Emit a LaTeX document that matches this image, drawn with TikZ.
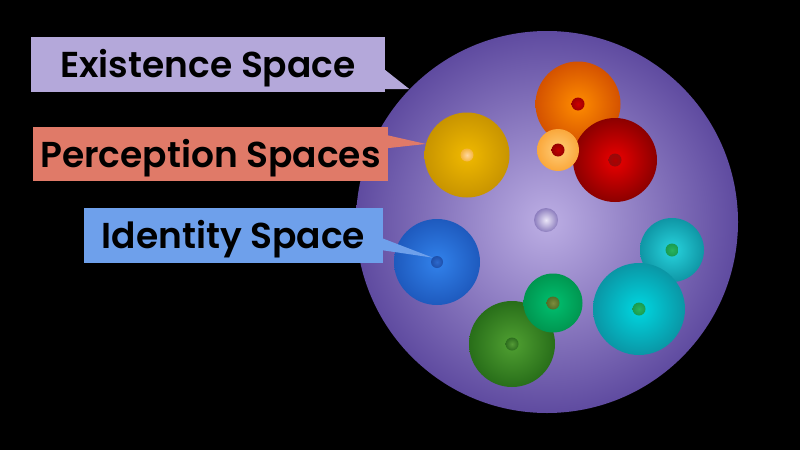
\documentclass[tikz,border=0pt]{standalone}
\usepackage{fontspec}
\setmainfont{Poppins}
\newfontfamily\lblfont{Poppins SemiBold}
\usetikzlibrary{calc}

\definecolor{exlav}{RGB}{180,168,218}
\definecolor{persalmon}{RGB}{224,122,104}
\definecolor{idblue}{RGB}{110,160,235}

\begin{document}
\begin{tikzpicture}[x=1pt,y=-1pt]
    \tikzstyle{ball}=[circle,inner sep=0pt,shade]
    \tikzstyle{dot}=[circle,inner sep=0pt,shade,minimum size=13pt]
    \tikzstyle{lbl}=[inner sep=0pt,minimum height=55pt,text height=26pt,text depth=0pt,text=black,font=\fontsize{36}{36}\lblfont]

    \fill[black] (0,0) rectangle (800,450);
    \useasboundingbox (0,0) rectangle (800,450);

    % the existence space and its core
    \node[ball,minimum size=382pt,inner color={rgb,255:red,188;green,174;blue,228},outer color={rgb,255:red,95;green,75;blue,160}] (world) at (547,222) {};
    \node[ball,minimum size=24pt,inner color={rgb,255:red,235;green,230;blue,248},outer color={rgb,255:red,140;green,125;blue,190}] (core) at (546,220) {};

    % perception spaces
    \node[ball,minimum size=85pt,inner color={rgb,255:red,240;green,185;blue,0},outer color={rgb,255:red,200;green,148;blue,0}] (yellow) at (467,155) {};
    \node[ball,minimum size=85pt,inner color={rgb,255:red,255;green,140;blue,0},outer color={rgb,255:red,212;green,82;blue,0}] (orange) at (578,104) {};
    \node[ball,minimum size=84pt,inner color={rgb,255:red,235;green,0;blue,0},outer color={rgb,255:red,140;green,0;blue,0}] (red) at (615,160) {};
    \node[ball,minimum size=42pt,inner color={rgb,255:red,255;green,205;blue,120},outer color={rgb,255:red,250;green,168;blue,60}] (peach) at (558,150) {};
    \node[ball,minimum size=86pt,inner color={rgb,255:red,50;green,130;blue,235},outer color={rgb,255:red,30;green,90;blue,190}] (blue) at (437,262) {};
    \node[ball,minimum size=64pt,inner color={rgb,255:red,40;green,212;blue,222},outer color={rgb,255:red,15;green,150;blue,165}] (teal) at (672,250) {};
    \node[ball,minimum size=92pt,inner color={rgb,255:red,0;green,215;blue,225},outer color={rgb,255:red,10;green,150;blue,165}] (cyan) at (639,309) {};
    \node[ball,minimum size=86pt,inner color={rgb,255:red,80;green,160;blue,50},outer color={rgb,255:red,40;green,110;blue,25}] (moss) at (512,344) {};
    \node[ball,minimum size=59pt,inner color={rgb,255:red,0;green,192;blue,112},outer color={rgb,255:red,0;green,150;blue,80}] (jade) at (553,303) {};

    % identity spaces
    \node[dot,inner color={rgb,255:red,255;green,215;blue,160},outer color={rgb,255:red,245;green,180;blue,60}] (yellowdot) at (yellow) {};
    \node[dot,inner color={rgb,255:red,205;green,0;blue,0},outer color={rgb,255:red,160;green,0;blue,0}] (orangedot) at (orange) {};
    \node[dot,inner color={rgb,255:red,175;green,0;blue,0},outer color={rgb,255:red,150;green,10;blue,10}] (reddot) at (red) {};
    \node[dot,inner color={rgb,255:red,195;green,0;blue,0},outer color={rgb,255:red,150;green,0;blue,0}] (peachdot) at (peach) {};
    \node[dot,minimum size=12pt,inner color={rgb,255:red,45;green,105;blue,205},outer color={rgb,255:red,30;green,80;blue,170}] (bluedot) at (blue) {};
    \node[dot,inner color={rgb,255:red,40;green,180;blue,95},outer color={rgb,255:red,25;green,155;blue,80}] (tealdot) at (teal) {};
    \node[dot,inner color={rgb,255:red,40;green,180;blue,95},outer color={rgb,255:red,25;green,155;blue,80}] (cyandot) at (cyan) {};
    \node[dot,inner color={rgb,255:red,85;green,155;blue,55},outer color={rgb,255:red,45;green,110;blue,30}] (mossdot) at (moss) {};
    \node[dot,inner color={rgb,255:red,125;green,140;blue,60},outer color={rgb,255:red,80;green,110;blue,40}] (jadedot) at (jade) {};

    % labels
    \node[lbl,fill=exlav,minimum width=354pt] (exl) at (208,64.5) {Existence Space};
    \node[lbl,fill=persalmon,minimum width=355pt,minimum height=54pt] (perl) at (210.5,154) {Perception Spaces};
    \node[lbl,fill=idblue,minimum width=299pt] (idl) at (233.5,235.5) {Identity Space};

    \fill[exlav] ($(exl.south east)+(-1,-23)$) -- (world.136) -- ($(exl.south east)+(-1,-3)$) -- cycle;
    \fill[persalmon] ($(perl.south east)+(-1,-46)$) -- (yellow.165) -- ($(perl.south east)+(-1,-33)$) -- cycle;
    \fill[idblue] ($(idl.south east)+(-1,-25)$) -- (bluedot.135) -- ($(idl.south east)+(-1,-13)$) -- cycle;
\end{tikzpicture}
\end{document}
